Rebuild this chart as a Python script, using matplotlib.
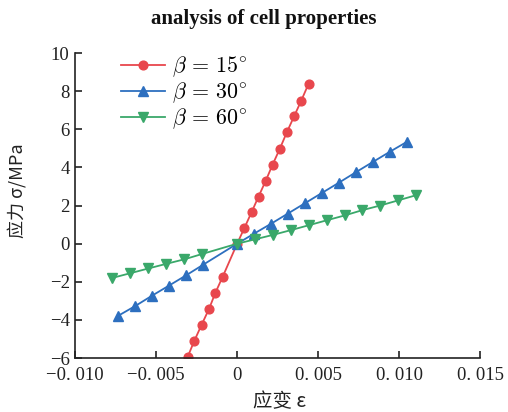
import matplotlib
matplotlib.use("Agg")
import matplotlib.pyplot as plt
from matplotlib.ticker import FixedLocator, FixedFormatter

plt.rcParams['mathtext.fontset'] = 'cm'

red_x = [-0.00305, -0.00264, -0.00219, -0.00173, -0.00134, -0.00089, 0.0,
         0.00044, 0.00089, 0.00132, 0.00177, 0.00219, 0.00264, 0.00307, 0.00352, 0.00396, 0.00441]
red_y = [-5.93, -5.09, -4.25, -3.41, -2.57, -1.73, 0.0,
         0.81, 1.65, 2.47, 3.31, 4.15, 4.99, 5.85, 6.69, 7.51, 8.39]
blue_x = [-0.00734, -0.00629, -0.00526, -0.00423, -0.00315, -0.00213, 0.0,
          0.00103, 0.00210, 0.00313, 0.00418, 0.00523, 0.00628, 0.00733, 0.00838, 0.00944, 0.01051]
blue_y = [-3.78, -3.27, -2.73, -2.21, -1.66, -1.12, 0.0,
          0.52, 1.05, 1.58, 2.12, 2.66, 3.20, 3.75, 4.29, 4.83, 5.36]
green_x = [-0.00773, -0.00660, -0.00548, -0.00439, -0.00326, -0.00216, 0.0,
           0.00111, 0.00220, 0.00331, 0.00443, 0.00554, 0.00663, 0.00773, 0.00882, 0.00993, 0.01107]
green_y = [-1.80, -1.55, -1.30, -1.06, -0.82, -0.54, 0.0,
           0.23, 0.46, 0.71, 0.97, 1.23, 1.48, 1.76, 2.00, 2.27, 2.55]

labels = [r'$\beta\,=\,15^{\circ}$', r'$\beta\,=\,30^{\circ}$', r'$\beta\,=\,60^{\circ}$']

x_ticks = [-0.010, -0.005, 0.0, 0.005, 0.010, 0.015]
x_tick_labels = ['\u22120. 010', '\u22120. 005', '0', '0. 005', '0. 010', '0. 015']
y_ticks = [-6, -4, -2, 0, 2, 4, 6, 8, 10]
y_tick_labels = ['\u22126', '\u22124', '\u22122', '0', '2', '4', '6', '8', '10']

fig = plt.figure(figsize=(5.08, 4.12), dpi=100)
ax = fig.add_axes([0.148, 0.131, 0.797, 0.740])

ax.plot(red_x, red_y, color='#e8474d', marker='o', markersize=6.3, linewidth=1.3, label=labels[0])
ax.plot(blue_x, blue_y, color='#2d6fbf', marker='^', markersize=6.5, linewidth=1.3, label=labels[1])
ax.plot(green_x, green_y, color='#3aa86a', marker='v', markersize=6.5, linewidth=1.3, label=labels[2])

ax.set_xlim(-0.010, 0.015)
ax.set_ylim(-6, 10)
ax.spines['top'].set_visible(False)
ax.spines['right'].set_visible(False)
for s in ['left', 'bottom']:
    ax.spines[s].set_linewidth(1.2)
    ax.spines[s].set_color('#222222')

ax.xaxis.set_major_locator(FixedLocator(x_ticks))
ax.xaxis.set_major_formatter(FixedFormatter(x_tick_labels))
ax.yaxis.set_major_locator(FixedLocator(y_ticks))
ax.yaxis.set_major_formatter(FixedFormatter(y_tick_labels))
ax.tick_params(direction='in', length=5, width=1.2, color='#222222', labelsize=13.5)
ax.tick_params(axis='x', pad=6.5)
ax.tick_params(axis='y', pad=4)
for lab in ax.get_xticklabels() + ax.get_yticklabels():
    lab.set_family(['Liberation Serif', 'DejaVu Serif'])
    lab.set_color('#222222')

ax.set_xlabel('应变 ε', fontsize=14, family=['Noto Sans CJK SC', 'DejaVu Sans'], color='#222222')
ax.set_ylabel('应力 σ/MPa', fontsize=13, family=['Noto Sans CJK SC', 'DejaVu Sans'], color='#222222')
ax.xaxis.set_label_coords(0.505, -0.108)
ax.yaxis.set_label_coords(-0.12, 0.548)

fig.text(0.52, 0.955, 'analysis of cell properties', ha='center', va='center',
         fontsize=15, fontweight='bold', family='Liberation Serif', color='#111111')

leg = ax.legend(loc='upper left', frameon=False, fontsize=15.8, handlelength=2.0,
                handletextpad=0.35, labelspacing=0.06, borderaxespad=0.3,
                bbox_to_anchor=(0.075, 1.045))

fig.savefig('out.png', dpi=100)
